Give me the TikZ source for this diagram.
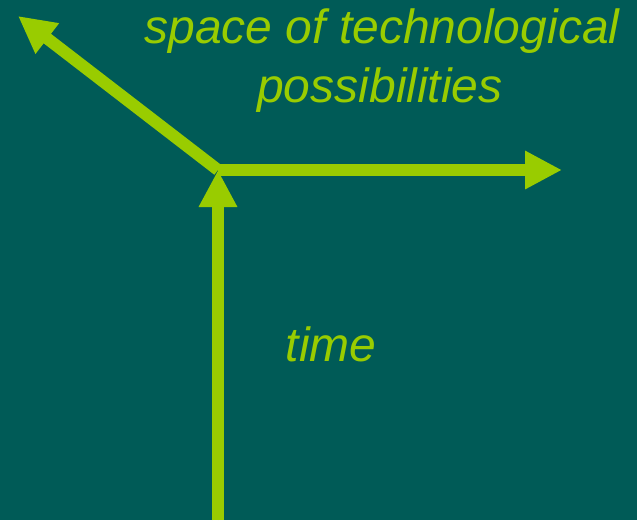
\documentclass[tikz,border=0pt]{standalone}
\usepackage{fontspec}
\setmainfont{Liberation Sans}
\usetikzlibrary{arrows.meta}
\definecolor{DeepTeal}{RGB}{0,91,87}
\definecolor{LimeGreen}{RGB}{153,204,0}

\begin{document}
\begin{tikzpicture}[x=1pt,y=-1pt,>={Triangle[length=37pt,width=36pt]},
  axis/.style={->,line width=12pt,draw=LimeGreen,fill=LimeGreen},
  lbl/.style={text=LimeGreen,font=\fontsize{48}{58}\selectfont\itshape,inner sep=0pt,anchor=base}]
\fill[DeepTeal] (0,0) rectangle (637,520);
\useasboundingbox (0,0) rectangle (637,520);
\coordinate (o) at (218,170);
\coordinate (start) at (218,520);
\coordinate (tech) at (562,170);
\coordinate (poss) at (18,16);
\node[lbl] (sp1) at (382,43) {space of technological};
\node[lbl] (sp2) at (380,102) {possibilities};
\node[lbl] (tm) at (331,361) {time};
\draw[axis] (o)--(poss);\draw[axis] (o)--(tech);
\draw[axis] (start)--(o);
\end{tikzpicture}
\end{document}
